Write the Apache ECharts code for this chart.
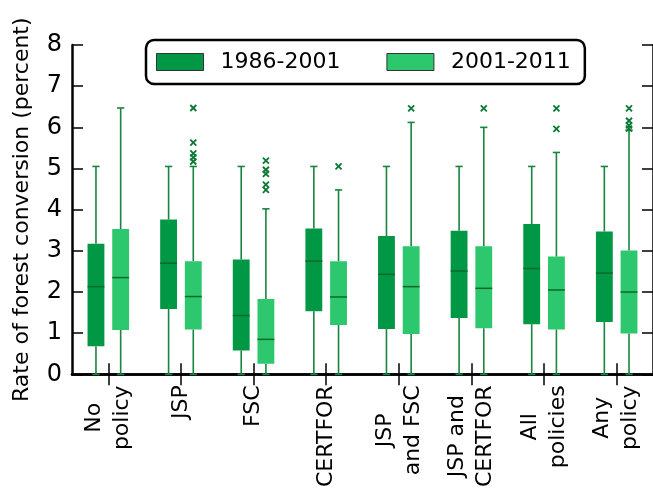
<!DOCTYPE html>
<html>
<head>
<meta charset="utf-8">
<script src="https://cdn.jsdelivr.net/npm/echarts@6/dist/echarts.min.js"></script>
<style>
  html, body { margin: 0; padding: 0; background: #fff; }
  #chart { width: 653px; height: 490px; }
</style>
</head>
<body>
<div id="chart"></div>
<script>
// categories on the x axis
const categories = ['No\npolicy', 'JSP', 'FSC', 'CERTFOR', 'JSP\nand FSC', 'JSP and\nCERTFOR', 'All\npolicies', 'Any\npolicy'];
const yTicks = [0, 1, 2, 3, 4, 5, 6, 7, 8];

// [low, q1, median, q3, high] per category
const box1986 = [
  [0, 0.68, 2.13, 3.17, 5.05],
  [0, 1.59, 2.70, 3.76, 5.05],
  [0, 0.58, 1.43, 2.79, 5.05],
  [0, 1.53, 2.75, 3.54, 5.05],
  [0, 1.10, 2.43, 3.36, 5.05],
  [0, 1.37, 2.51, 3.49, 5.05],
  [0, 1.22, 2.57, 3.65, 5.05],
  [0, 1.27, 2.46, 3.47, 5.05]
];
const box2001 = [
  [0, 1.08, 2.35, 3.53, 6.47],
  [0, 1.09, 1.89, 2.75, 5.05],
  [0, 0.26, 0.85, 1.83, 4.02],
  [0, 1.20, 1.88, 2.75, 4.48],
  [0, 0.98, 2.13, 3.11, 6.12],
  [0, 1.12, 2.09, 3.11, 6.00],
  [0, 1.09, 2.05, 2.86, 5.39],
  [0, 0.99, 2.00, 3.01, 5.93]
];
// [category index, value] outliers (2001-2011 only)
const outliers2001 = [
  [1, 6.47], [1, 5.63], [1, 5.37], [1, 5.27], [1, 5.17],
  [2, 5.19], [2, 4.97], [2, 4.87], [2, 4.61], [2, 4.48],
  [3, 5.05],
  [4, 6.46],
  [5, 6.46],
  [6, 6.46], [6, 5.96],
  [7, 6.46], [7, 6.16], [7, 6.05], [7, 5.97]
];

const DARK = '#009844';
const LIGHT = '#2dc76d';
const WHISKER = '#17843f';
const MEDIAN = '#0a6a2d';
const FONT = 'DejaVu Sans';
const LABEL_SIZE = 22;

// pad every line of a label to the width of its longest line, so the lines sit centred on each other
const measure = document.createElement('canvas').getContext('2d');
measure.font = LABEL_SIZE + 'px "' + FONT + '"';
const labelRich = {};
const labelText = categories.map((c, i) => {
  const lines = c.split('\n');
  const widths = lines.map((s) => measure.measureText(s).width);
  const maxW = Math.max(...widths);
  return lines.map((s, j) => {
    const p = (maxW - widths[j]) / 2;
    const key = 'c' + i + 'l' + j;
    labelRich[key] = { padding: [0, p, 0, p], fontFamily: FONT, fontSize: LABEL_SIZE, lineHeight: 28, color: '#000' };
    return '{' + key + '|' + s + '}';
  }).join('\n');
});

const boxRender = (offsetFrac) => (params, api) => {
  const cat = api.value(0);
  const band = api.size([1, 0])[0];
  const cx = api.coord([cat, 0])[0] + band * offsetFrac;
  const hw = band * 0.116;
  const cw = band * 0.05;
  const y = (i) => api.coord([cat, api.value(i)])[1];
  const yLow = y(1), yQ1 = y(2), yMed = y(3), yQ3 = y(4), yHigh = y(5);
  const ws = { stroke: WHISKER, lineWidth: 1.6 };
  return {
    type: 'group',
    children: [
      { type: 'line', shape: { x1: cx, y1: yLow, x2: cx, y2: yQ1 }, style: ws },
      { type: 'line', shape: { x1: cx, y1: yQ3, x2: cx, y2: yHigh }, style: ws },
      { type: 'line', shape: { x1: cx - cw, y1: yHigh, x2: cx + cw, y2: yHigh }, style: ws },
      { type: 'line', shape: { x1: cx - cw, y1: yLow, x2: cx + cw, y2: yLow }, style: ws },
      { type: 'rect', shape: { x: cx - hw, y: yQ3, width: hw * 2, height: yQ1 - yQ3 },
        style: { fill: api.visual('color') } },
      { type: 'line', shape: { x1: cx - hw, y1: yMed, x2: cx + hw, y2: yMed },
        style: { stroke: MEDIAN, lineWidth: 1.5 } }
    ]
  };
};

const outlierRender = (offsetFrac) => (params, api) => {
  const cat = api.value(0);
  const band = api.size([1, 0])[0];
  const p = api.coord([cat, api.value(1)]);
  const cx = p[0] + band * offsetFrac;
  const r = 3;
  const st = { stroke: '#0b7a36', lineWidth: 1.8 };
  return {
    type: 'group',
    children: [
      { type: 'line', shape: { x1: cx - r, y1: p[1] - r, x2: cx + r, y2: p[1] + r }, style: st },
      { type: 'line', shape: { x1: cx - r, y1: p[1] + r, x2: cx + r, y2: p[1] - r }, style: st }
    ]
  };
};

const chart = echarts.init(document.getElementById('chart'));

const spine = { show: true, lineStyle: { color: '#000', width: 2.5 } };
const tick = { show: true, inside: true, length: 11, lineStyle: { color: '#000', width: 1.5 } };

const option = {
  animation: false,
  backgroundColor: '#fff',
  textStyle: { fontFamily: FONT },
  grid: { left: 72, top: 45, width: 587, height: 331 },
  legend: {
    data: ['1986-2001', '2001-2011'],
    left: 146,
    top: 40,
    padding: [11, 14, 11, 10],
    icon: 'rect',
    itemWidth: 47,
    itemHeight: 17,
    itemGap: 46,
    backgroundColor: '#fff',
    borderColor: '#000',
    borderWidth: 2.5,
    borderRadius: 8,
    z: 10,
    itemStyle: { borderColor: '#333', borderWidth: 1 },
    textStyle: { fontFamily: FONT, fontSize: 22, color: '#000', padding: [0, 0, 0, 12] }
  },
  xAxis: [
    {
      type: 'category',
      data: categories,
      position: 'bottom',
      axisLine: spine,
      axisTick: Object.assign({ alignWithLabel: true }, tick),
      splitLine: { show: false },
      axisLabel: {
        rotate: 90,
        margin: 11,
        fontFamily: FONT,
        fontSize: LABEL_SIZE,
        color: '#000',
        lineHeight: 28,
        formatter: (v, i) => labelText[i],
        rich: labelRich
      }
    },
    {
      type: 'category',
      data: categories,
      position: 'top',
      axisLine: spine,
      axisTick: Object.assign({ alignWithLabel: true }, tick),
      axisLabel: { show: false },
      splitLine: { show: false }
    }
  ],
  yAxis: [
    {
      type: 'value',
      min: yTicks[0],
      max: yTicks[yTicks.length - 1],
      interval: 1,
      name: 'Rate of forest conversion (percent)',
      nameLocation: 'middle',
      nameGap: 39,
      nameTextStyle: { fontFamily: FONT, fontSize: 22, color: '#000' },
      axisLine: spine,
      axisTick: tick,
      splitLine: { show: false },
      axisLabel: { margin: 10, fontFamily: FONT, fontSize: 24, color: '#000' }
    },
    {
      type: 'value',
      position: 'right',
      min: yTicks[0],
      max: yTicks[yTicks.length - 1],
      interval: 1,
      axisLine: spine,
      axisTick: tick,
      splitLine: { show: false },
      axisLabel: { show: false }
    }
  ],
  series: [
    {
      name: '1986-2001',
      type: 'custom',
      itemStyle: { color: DARK },
      encode: { x: 0, y: [1, 2, 3, 4, 5] },
      data: box1986.map((b, i) => [i].concat(b)),
      renderItem: boxRender(-0.17)
    },
    {
      name: '2001-2011',
      type: 'custom',
      itemStyle: { color: LIGHT },
      encode: { x: 0, y: [1, 2, 3, 4, 5] },
      data: box2001.map((b, i) => [i].concat(b)),
      renderItem: boxRender(0.17)
    },
    {
      name: 'outliers',
      type: 'custom',
      itemStyle: { color: '#0b7a36' },
      encode: { x: 0, y: 1 },
      data: outliers2001,
      renderItem: outlierRender(0.17),
      z: 3
    }
  ]
};

chart.setOption(option);
</script>
</body>
</html>
